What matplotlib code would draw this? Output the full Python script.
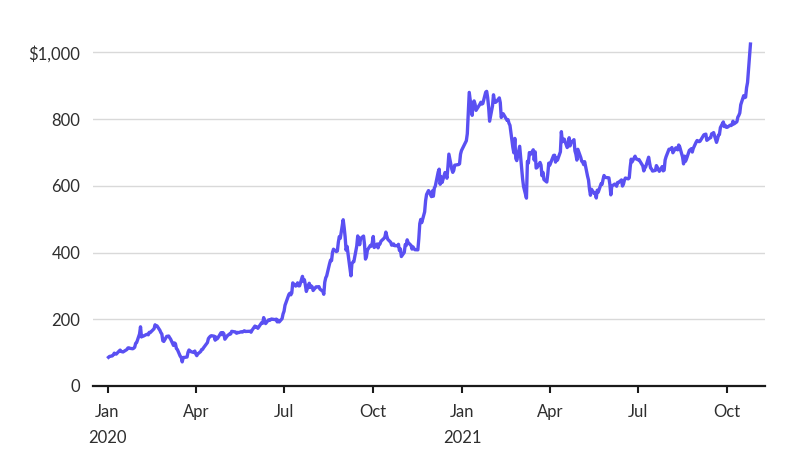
import matplotlib.pyplot as plt
import pandas as pd

# market holidays (NYSE) in the range, so the trading days line up
holidays = ['2020-01-20', '2020-02-17', '2020-04-10', '2020-05-25', '2020-07-03',
            '2020-09-07', '2020-11-26', '2020-12-25', '2021-01-01', '2021-01-18',
            '2021-02-15', '2021-04-02', '2021-05-31', '2021-07-05', '2021-09-06']

# daily closing price, Jan 2 2020 .. Oct 25 2021
close_2020 = [
    86.05, 88.60, 90.31, 93.81, 98.43, 96.27, 95.63, 104.97, 107.58, 103.70, 102.70, 102.10,
    109.44, 113.91, 114.44, 112.96, 111.60, 113.38, 116.20, 128.16, 130.11,
    156.00, 177.41, 146.94, 149.79, 149.61, 154.26, 154.88, 153.46, 160.80, 160.01,
    171.68, 183.48, 179.88, 180.20, 166.76, 159.98, 155.76, 135.80, 133.60,
    148.72, 149.10, 149.90, 144.91, 140.70, 121.60, 129.07, 126.85, 112.11, 109.32,
    89.01, 86.04, 72.24, 85.53, 85.51, 86.86, 101.00, 107.85, 105.63, 102.87, 100.43, 104.80,
    96.31, 90.89, 96.00, 103.25, 109.09, 109.77, 114.60, 130.19, 141.98, 145.97, 149.04,
    150.78, 149.27, 137.34, 146.42, 141.13, 145.03, 159.75, 153.82, 160.10, 156.38,
    140.26, 152.24, 153.64, 156.52, 156.01, 163.88, 162.26, 161.88, 158.19, 160.67, 159.83,
    162.73, 161.60, 163.11, 165.52, 163.38, 163.77, 164.05, 161.16, 167.00,
    179.62, 176.31, 176.59, 172.88, 177.13, 189.98, 188.13, 205.01, 194.57, 187.06,
    198.18, 196.43, 198.36, 200.79, 200.18, 198.86, 200.36, 192.17, 197.20, 191.95, 201.87, 215.96,
    223.93, 241.73, 274.32, 277.97, 273.18, 278.86, 308.93, 299.41, 303.36, 309.20, 300.13,
    300.17, 328.60, 313.67, 318.47, 302.61, 283.40, 307.92, 295.30, 299.82, 297.50, 286.15,
    297.00, 297.40, 297.00, 297.92, 290.54, 283.71, 274.88, 310.95, 324.20, 330.14,
    367.13, 377.42, 375.71, 400.37, 409.99, 402.84, 404.67, 430.63, 447.75, 442.68, 498.32,
    475.05, 447.37, 407.00, 418.32, 330.21, 366.28, 371.34, 372.72, 419.62, 449.76, 441.76,
    423.43, 442.15, 449.39, 424.23, 380.36, 387.79, 407.34, 421.20, 419.07, 429.01,
    448.16, 415.09, 425.68, 413.98, 425.30, 425.92, 434.00, 442.30, 446.65, 461.30, 448.88,
    439.67, 430.83, 421.94, 422.64, 425.79, 420.63, 420.28, 424.68, 406.02, 410.83, 388.04,
    400.51, 423.90, 420.98, 438.09, 429.95, 421.26, 410.36, 417.13, 411.76, 408.50,
    408.09, 441.61, 486.64, 499.27, 489.61, 521.85, 555.38, 574.00, 585.76, 567.60,
    584.76, 568.82, 593.38, 599.04, 641.76, 649.88, 604.48, 627.07, 609.99, 639.83, 633.25,
    622.77, 655.90, 695.00, 649.86, 640.34, 645.98, 661.77, 663.69, 665.99, 694.78, 705.67,
]
close_2021 = [
    729.77, 735.11, 755.98, 816.04, 880.02, 811.19, 849.44, 854.41, 845.00, 826.16,
    844.55, 850.45, 844.99, 846.64, 880.80, 883.09, 864.16, 835.43, 793.53,
    839.81, 872.79, 854.69, 849.99, 852.23, 863.42, 849.46, 804.82, 811.66, 816.12,
    796.22, 798.15, 787.38, 781.30, 714.50, 698.84, 742.02, 682.22, 675.50,
    718.43, 686.44, 653.20, 621.44, 597.95, 563.00, 673.58, 668.06, 699.60, 693.73,
    707.94, 676.88, 701.81, 653.16, 654.87, 670.00, 662.16, 630.27, 640.39, 618.71,
    611.29, 635.62, 667.93,
    661.75, 691.05, 691.62, 670.97, 683.80, 677.02, 701.98, 762.32, 732.23, 738.85, 739.78,
    714.63, 718.99, 744.12, 719.69, 729.40, 738.20, 704.74, 694.40, 677.00, 709.44,
    684.90, 673.60, 670.94, 663.54, 672.37, 629.04, 617.20, 589.89, 571.69, 589.74,
    576.83, 577.87, 563.46, 586.78, 580.88, 606.44, 604.69, 619.13, 630.85, 625.22,
    623.90, 605.12, 572.84, 599.05, 605.13, 603.59, 598.78, 610.12, 609.89, 617.69, 599.36,
    604.87, 616.60, 623.31, 620.83, 623.71, 656.57, 679.82, 671.87, 688.72, 680.76, 679.70,
    677.92, 678.90, 659.58, 644.65, 652.81, 656.95, 685.70, 668.54, 653.38, 650.60, 644.22,
    646.22, 660.50, 655.29, 649.26, 643.38, 657.62, 644.78, 646.98, 677.35, 687.20,
    709.67, 709.74, 710.92, 714.63, 699.10, 713.76, 709.99, 707.82, 722.25, 717.17,
    686.17, 665.71, 688.99, 673.47, 680.26, 706.30, 708.49, 711.20, 701.16, 711.92, 730.91, 735.72,
    734.09, 732.39, 733.57, 752.92, 753.87, 754.86, 736.27, 743.00, 744.49, 755.83, 756.99,
    759.49, 730.17, 739.38, 751.94, 753.64, 774.39, 791.36, 777.56, 781.31, 775.48,
    775.22, 781.53, 780.59, 782.75, 793.61, 785.49, 791.94, 805.72, 811.08, 818.32, 843.03,
    870.11, 864.27, 865.80, 894.00, 909.68, 1024.86,
]
close = close_2020 + close_2021
dates = pd.bdate_range('2020-01-02', periods=len(close), freq='C', holidays=holidays)

tick_dates = ['2020-01-01', '2020-04-01', '2020-07-01', '2020-10-01',
              '2021-01-01', '2021-04-01', '2021-07-01', '2021-10-01']
tick_labels = ['Jan\n2020', 'Apr', 'Jul', 'Oct', 'Jan\n2021', 'Apr', 'Jul', 'Oct']
y_ticks = [0, 200, 400, 600, 800, 1000]
y_labels = ['0', '200', '400', '600', '800', '$1,000']

plt.rcParams['font.family'] = ['Lato', 'DejaVu Sans']

fig = plt.figure(figsize=(8, 4.54), dpi=100)
ax = fig.add_axes([93 / 800, 1 - 386 / 454, (765 - 93) / 800, (386 - 39) / 454])

ax.plot(dates, close, color='#5a50f2', linewidth=2.4, solid_joinstyle='round', zorder=3)

ax.set_xlim(pd.Timestamp('2019-12-17'), pd.Timestamp('2021-11-09'))
ax.set_ylim(0, 1040)

ax.set_xticks(pd.to_datetime(tick_dates))
ax.set_xticklabels(tick_labels, linespacing=1.75)
ax.set_yticks(y_ticks)
ax.set_yticklabels(y_labels)

ax.grid(axis='y', color='#d9d9d9', linewidth=1)
ax.set_axisbelow(True)
for side in ['top', 'right', 'left']:
    ax.spines[side].set_visible(False)
ax.spines['bottom'].set_color('#1a1a1a')
ax.spines['bottom'].set_linewidth(1.6)
ax.spines['bottom'].set_zorder(4)

ax.tick_params(axis='y', length=0, pad=9, labelsize=12, labelcolor='#2e2e2e')
ax.tick_params(axis='x', length=5, width=1.5, color='#1a1a1a', pad=8,
               labelsize=12, labelcolor='#2e2e2e')

fig.savefig('out.png', dpi=100)
